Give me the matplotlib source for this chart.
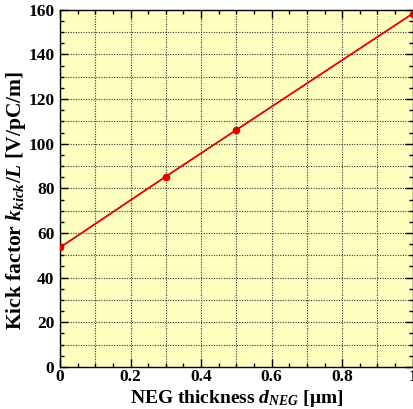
import numpy as np
import matplotlib.pyplot as plt
from matplotlib.ticker import MultipleLocator

# data
thickness = [0.0, 0.3, 0.5, 1.0]
kick = [53.5, 85.3, 106.2, 158.3]

plt.rcParams['font.family'] = ['Liberation Serif', 'DejaVu Serif']
plt.rcParams['mathtext.fontset'] = 'custom'
plt.rcParams['mathtext.rm'] = 'Liberation Serif:bold'
plt.rcParams['mathtext.it'] = 'Liberation Serif:bold:italic'
plt.rcParams['mathtext.bf'] = 'Liberation Serif:bold'

fig = plt.figure(figsize=(4.14, 4.09), dpi=100)
ax = fig.add_axes([0.145, 0.103, 0.852, 0.873])
ax.set_facecolor('#ffffc0')

# dotted grid every 0.1 / 10
for gx in np.arange(0.1, 1.0, 0.1):
    ax.axvline(gx, color='#333333', lw=0.8, ls=(0, (1, 1.3)), zorder=1)
for gy in np.arange(10, 160, 10):
    ax.axhline(gy, color='#333333', lw=0.8, ls=(0, (1, 1.3)), zorder=1)

ax.plot(thickness, kick, color='#e00000', lw=1.3, marker='o', ms=4.5, zorder=3)

ax.set_xlim(0, 1)
ax.set_ylim(0, 160)
ax.xaxis.set_major_locator(MultipleLocator(0.2))
ax.xaxis.set_minor_locator(MultipleLocator(0.05))
ax.yaxis.set_major_locator(MultipleLocator(20))
ax.yaxis.set_minor_locator(MultipleLocator(5))
ax.set_xticks([0, 0.2, 0.4, 0.6, 0.8, 1.0], ['0', '0.2', '0.4', '0.6', '0.8', '1'])
ax.tick_params(which='both', direction='in', top=True, right=True, labelsize=12.5)
ax.tick_params(which='major', length=6, width=1, pad=4)
ax.tick_params(axis='x', which='major', pad=1.5)
ax.tick_params(which='minor', length=3, width=1)
for lab in ax.get_xticklabels() + ax.get_yticklabels():
    lab.set_fontweight('bold')
for sp in ax.spines.values():
    sp.set_linewidth(1.0)

ax.set_xlabel(r'NEG thickness $d_{NEG}$ [$\mathrm{\mu}$m]', fontsize=14, fontweight='bold')
ax.set_ylabel(r'Kick factor $k_{kick}/L$ [V/pC/m]', fontsize=15.5, fontweight='bold')
ax.xaxis.set_label_coords(0.5, -0.058)
ax.yaxis.set_label_coords(-0.092, 0.465)

fig.savefig('out.png', dpi=100)
